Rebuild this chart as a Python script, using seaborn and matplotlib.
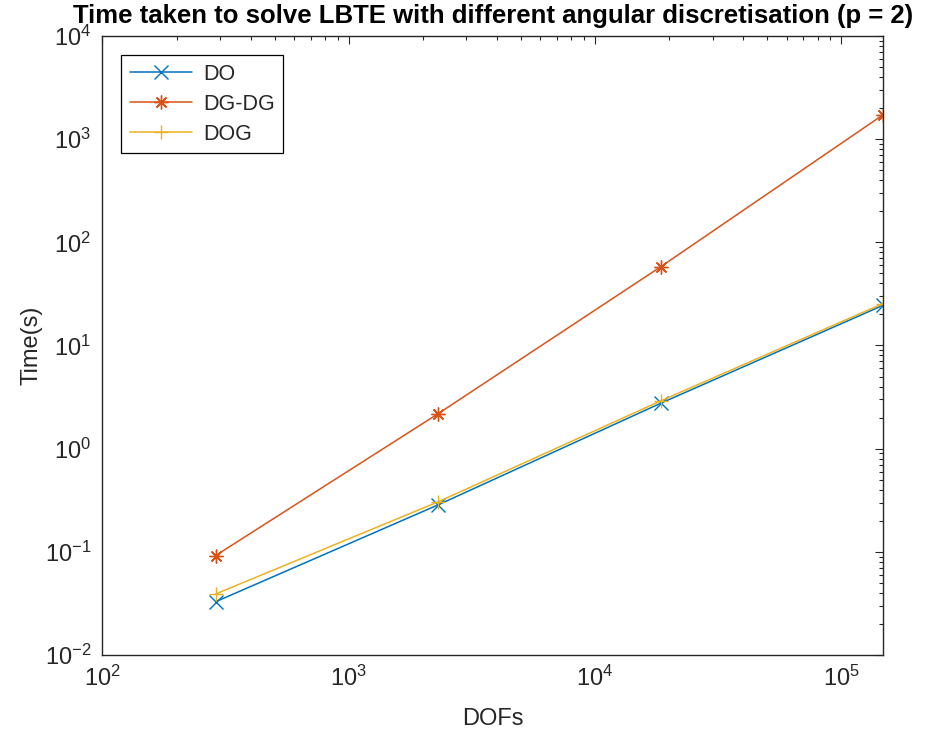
import numpy as np
import pandas as pd
import matplotlib
matplotlib.use("Agg")
import matplotlib.pyplot as plt
from matplotlib.ticker import FixedLocator, FuncFormatter, NullFormatter
import seaborn as sns

# Degrees of freedom and solve times (seconds) for each angular scheme
dofs = [288, 2304, 18432, 147456]
time_do = [0.0328, 0.285, 2.75, 24.5]
time_dgdg = [0.092, 2.18, 57.8, 1720.0]
time_dog = [0.039, 0.305, 2.9, 25.5]

series_names = ["DO", "DG-DG", "DOG"]
series_colors = ["#0072BD", "#D95319", "#EDB120"]
series_markers = ["x", (8, 2, 0), "+"]

sns.set_theme(style="white")
plt.rcParams["font.family"] = ["Liberation Sans", "DejaVu Sans"]
plt.rcParams["mathtext.fontset"] = "custom"
plt.rcParams["mathtext.rm"] = "Liberation Sans"
plt.rcParams["mathtext.it"] = "Liberation Sans"

df = pd.DataFrame({
    "DOFs": dofs * 3,
    "Time": time_do + time_dgdg + time_dog,
    "method": [n for n in series_names for _ in dofs],
})

fig = plt.figure(figsize=(9.34, 7.37), dpi=100)
ax = fig.add_axes([0.1097, 0.1113, 0.9454 - 0.1097, 0.9512 - 0.1113])

for name, color, mk in zip(series_names, series_colors, series_markers):
    sub = df[df["method"] == name]
    sns.lineplot(data=sub, x="DOFs", y="Time", ax=ax, color=color, label=name,
                 marker=mk, markersize=10, markeredgecolor=color,
                 markeredgewidth=1.0, linewidth=1.1, estimator=None, sort=False)

ax.set_xscale("log")
ax.set_yscale("log")
x_lo, x_hi = 100, dofs[-1]
y_lo, y_hi = 1e-2, 1e4
ax.set_xlim(x_lo, x_hi)
ax.set_ylim(y_lo, y_hi)


def decade_ticks(lo, hi):
    exps = range(int(np.floor(np.log10(lo))), int(np.ceil(np.log10(hi))) + 1)
    major = [10.0 ** e for e in exps if lo <= 10.0 ** e <= hi]
    minor = [m * 10.0 ** e for e in exps for m in range(2, 10)
             if lo <= m * 10.0 ** e <= hi]
    return major, minor


xmaj, xmin = decade_ticks(x_lo, x_hi)
ymaj, ymin = decade_ticks(y_lo, y_hi)
ax.xaxis.set_major_locator(FixedLocator(xmaj))
ax.xaxis.set_minor_locator(FixedLocator(xmin))
ax.yaxis.set_major_locator(FixedLocator(ymaj))
ax.yaxis.set_minor_locator(FixedLocator(ymin))

dark = "#262626"
fmt = FuncFormatter(lambda v, p: r"$\mathregular{10^{%d}}$" % int(round(np.log10(v))))
ax.xaxis.set_major_formatter(fmt)
ax.yaxis.set_major_formatter(fmt)
ax.xaxis.set_minor_formatter(NullFormatter())
ax.yaxis.set_minor_formatter(NullFormatter())

ax.tick_params(which="both", direction="in", top=True, right=True,
               color=dark, labelcolor=dark, width=0.8)
ax.tick_params(which="major", length=6, labelsize=17, pad=8)
ax.tick_params(which="minor", length=3)
for sp in ax.spines.values():
    sp.set_color(dark)
    sp.set_linewidth(1.0)

ax.set_xlabel("DOFs", fontsize=17, color=dark, labelpad=12)
ax.set_ylabel("Time(s)", fontsize=17, color=dark, labelpad=2)
ax.set_title("Time taken to solve LBTE with different angular discretisation (p = 2)",
             fontsize=18.5, fontweight="bold", color="black", pad=9)

leg = ax.legend(loc="upper left", bbox_to_anchor=(0.024, 0.969), fontsize=15.5,
                frameon=True, fancybox=False, edgecolor="black", framealpha=1,
                handlelength=2.9, labelspacing=0.42, borderpad=0.4,
                handletextpad=0.5, borderaxespad=0)
leg.get_frame().set_linewidth(0.9)

fig.savefig("out.png", dpi=100)
